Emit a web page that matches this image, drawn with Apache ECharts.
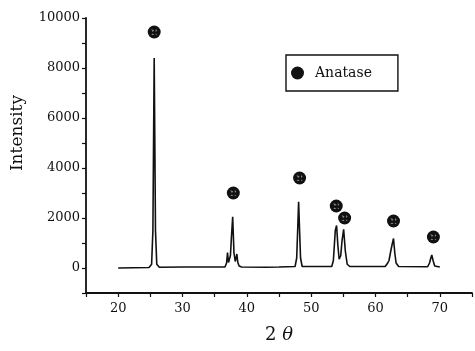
<!DOCTYPE html>
<html>
<head>
<meta charset="utf-8">
<script src="https://cdn.jsdelivr.net/npm/echarts@6/dist/echarts.min.js"></script>
<style>
  html, body { margin: 0; padding: 0; background: #fff; }
  #chart { width: 475px; height: 351px; }
</style>
</head>
<body>
<div id="chart"></div>
<script>
// XRD 图谱数据 (2θ, 强度)
var twoTheta = [20.0, 24.8, 25.2, 25.4, 25.5, 25.6, 25.7, 25.8, 26.0, 26.4, 30.0, 34.0,
  36.6, 36.85, 37.0, 37.15, 37.45, 37.6, 37.8, 38.0, 38.2, 38.45, 38.6, 38.8, 39.2, 43.0, 45.0,
  47.5, 47.75, 47.9, 48.05, 48.2, 48.35, 48.6, 53.2,
  53.45, 53.6, 53.75, 53.95, 54.15, 54.35, 54.6, 54.8, 55.05, 55.3, 55.6, 56.0, 61.5,
  61.9, 62.1, 62.35, 62.55, 62.8, 63.0, 63.2, 63.6, 68.1,
  68.4, 68.6, 68.75, 68.95, 69.2, 70.0];
var intensity = [0, 20, 150, 1500, 5000, 8400, 5000, 1500, 150, 30, 40, 40,
  40, 200, 620, 220, 500, 1200, 2050, 600, 260, 560, 220, 80, 40, 30, 40,
  60, 400, 1500, 2650, 1500, 400, 60, 60,
  300, 900, 1500, 1700, 900, 350, 500, 1100, 1550, 700, 150, 60, 60,
  200, 300, 650, 900, 1180, 600, 200, 60, 50,
  200, 400, 520, 300, 80, 40];

// 锐钛矿衍射峰标记位置
var markX = [25.6, 37.9, 48.2, 53.9, 55.2, 62.8, 69.0];
var markY = [9440, 3000, 3600, 2480, 2000, 1880, 1240];

var xTicks = [20, 30, 40, 50, 60, 70];
var yTicks = [0, 2000, 4000, 6000, 8000, 10000];

var curve = twoTheta.map(function (x, i) { return [x, intensity[i]]; });
var marks = markX.map(function (x, i) { return [x, markY[i]]; });

var fontFamily = 'DejaVu Serif';
var black = '#111';

var myChart = echarts.init(document.getElementById('chart'));

var option = {
  animation: false,
  backgroundColor: '#fff',
  grid: { left: 86, right: 0, top: 18, bottom: 58 },
  legend: {
    data: ['Anatase'],
    left: 286,
    top: 55,
    orient: 'horizontal',
    borderColor: black,
    borderWidth: 1.4,
    padding: [11, 26, 11, 5],
    itemWidth: 25,
    itemHeight: 13,
    textStyle: { fontFamily: fontFamily, fontSize: 14, color: black }
  },
  xAxis: {
    type: 'value',
    min: 15,
    max: 75,
    interval: 5,
    name: '{a|2 }{b|θ}',
    nameLocation: 'middle',
    nameGap: 33,
    nameTextStyle: {
      rich: {
        a: { fontFamily: fontFamily, fontSize: 18, color: black },
        b: { fontFamily: fontFamily, fontSize: 18, fontStyle: 'italic', color: black }
      }
    },
    axisLine: { onZero: false, lineStyle: { color: black, width: 1.8 } },
    axisTick: { length: 4, lineStyle: { color: black, width: 1.2 } },
    splitLine: { show: false },
    axisLabel: {
      margin: 9,
      fontFamily: fontFamily,
      fontSize: 13,
      color: black,
      formatter: function (v) { return xTicks.indexOf(v) >= 0 ? v : ''; }
    }
  },
  yAxis: {
    type: 'value',
    min: -1000,
    max: 10000,
    interval: 1000,
    axisLine: { show: true, onZero: false, lineStyle: { color: black, width: 1.8 } },
    axisTick: { show: true, length: 4, lineStyle: { color: black, width: 1.2 } },
    splitLine: { show: false },
    axisLabel: {
      margin: 6,
      fontFamily: fontFamily,
      fontSize: 13,
      color: black,
      formatter: function (v) { return yTicks.indexOf(v) >= 0 ? v : ''; }
    }
  },
  graphic: [{
    type: 'text',
    left: 9,
    top: 95,
    rotation: Math.PI / 2,
    style: {
      text: 'Intensity',
      fontFamily: fontFamily,
      fontSize: 17,
      fill: black
    }
  }],
  series: [{
    name: 'XRD',
    type: 'line',
    data: curve,
    showSymbol: false,
    symbol: 'none',
    lineStyle: { color: black, width: 1.6 },
    z: 2
  }, {
    name: 'Anatase',
    type: 'scatter',
    data: marks,
    symbol: 'circle',
    symbolSize: 13,
    itemStyle: { color: '#111', opacity: 1 },
    z: 3
  }, {
    name: 'pattern',
    type: 'scatter',
    data: marks,
    symbol: 'path://M0,0 L2,1 L1,2 Z M3,0 L4,1 L3,2 Z M1,3 L2,4 L0,4 Z M3,3 L4,4 L3,4 Z',
    symbolSize: 6,
    itemStyle: { color: '#888', opacity: 1 },
    silent: true,
    z: 4
  }]
};

myChart.setOption(option);
</script>
</body>
</html>
